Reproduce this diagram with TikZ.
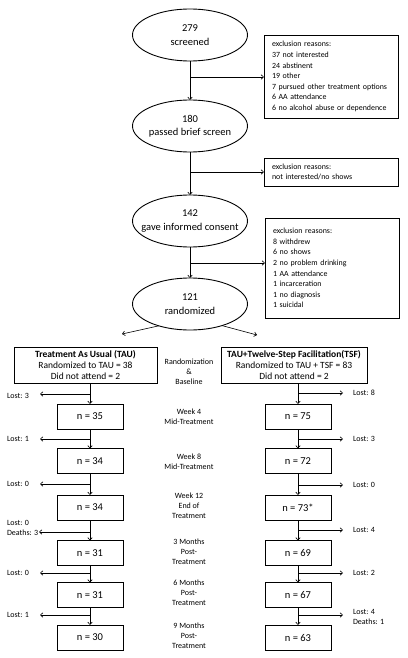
\documentclass[tikz,border=0pt]{standalone}
\usepackage{fontspec}
\setmainfont{Carlito}
\usetikzlibrary{shapes.geometric,arrows.meta}
\begin{document}
\begin{tikzpicture}[x=1pt,y=-1pt,
  every node/.style={inner sep=0pt,outer sep=0pt},
  oval/.style={ellipse,draw,line width=0.9pt,inner xsep=-12pt,inner ysep=0pt,minimum width=115pt,minimum height=52pt,align=center,font=\fontsize{10.5}{13.3}\selectfont},
  exbox/.style={draw,line width=0.8pt,minimum width=134pt,text width=118pt,align=left,font=\fontsize{7.9}{10.6}\selectfont},
  grpbox/.style={draw,line width=1pt,minimum height=36pt,align=center,font=\fontsize{9.5}{11}\selectfont},
  nbox/.style={draw,line width=1pt,minimum width=66pt,minimum height=25pt,font=\fontsize{10.5}{12}\selectfont},
  midlab/.style={align=center,font=\fontsize{8}{9.8}\selectfont},
  lostlab/.style={anchor=west,align=left,font=\fontsize{8}{10}\selectfont},
  arr/.style={line width=0.6pt,-{Straight Barb[length=2.5pt,width=4.5pt]}}
]
\useasboundingbox[fill=white] (0,0) rectangle (407,658);

% ellipses
\node[oval] (e1) at (190,35) {279\\screened};
\node[oval] (e2) at (190,126) {180\\passed brief screen};
\node[oval] (e3) at (190,221) {142\\gave informed consent};
\node[oval] (e4) at (190,304) {121\\randomized};

% exclusion boxes
\node[exbox,minimum height=83pt] (x1) at (331,76.5) {exclusion reasons:\\\mbox{37 not interested}\\\mbox{24 abstinent}\\\mbox{19 other}\\\mbox{7 pursued other treatment options}\\\mbox{6 AA attendance}\\\mbox{6 no alcohol abuse or dependence}};
\node[exbox,minimum height=28pt] (x2) at (331,172) {exclusion reasons:\\\mbox{not interested/no shows}};
\node[exbox,minimum height=100pt] (x3) at (332,268) {exclusion reasons:\\8 withdrew\\6 no shows\\2 no problem drinking\\1 AA attendance\\1 incarceration\\1 no diagnosis\\1 suicidal};

\coordinate (b1) at (190,77);
\coordinate (b2) at (190,172);
\coordinate (b3) at (190,263);
\draw[arr] (e1.south) -- (e2.north);
\draw[arr] (e2.south) -- (e3.north);
\draw[arr] (e3.south) -- (e4.north);
\draw[arr] (b1) -- (b1 -| x1.west);
\draw[arr] (b2) -- (b2 -| x2.west);
\draw[arr] (b3) -- (b3 -| x3.west);

\coordinate (dl) at (122,334);
\coordinate (dr) at (257,335);
\draw[arr] (e4.215) -- (dl);
\draw[arr] (e4.326) -- (dr);

% group boxes
\node[grpbox,minimum width=143pt] (t0) at (85.5,365) {\textbf{Treatment As Usual (TAU)}\\Randomized to TAU = 38\\Did not attend = 2};
\node[grpbox,minimum width=146pt] (s0) at (294,365) {\textbf{TAU+Twelve-Step Facilitation(TSF)}\\Randomized to TAU + TSF = 83\\Did not attend = 2};

% n boxes
\node[nbox] (t1) at (90,416.5) {n = 35};
\node[nbox] (t2) at (90,461) {n = 34};
\node[nbox] (t3) at (90,507.5) {n = 34};
\node[nbox] (t4) at (90,553) {n = 31};
\node[nbox] (t5) at (90,595) {n = 31};
\node[nbox] (t6) at (90,637.5) {n = 30};
\node[nbox] (s1) at (298,416.5) {n = 75};
\node[nbox] (s2) at (298,461) {n = 72};
\node[nbox] (s3) at (298,507.5) {n = 73*};
\node[nbox] (s4) at (298,553) {n = 69};
\node[nbox] (s5) at (298,595) {n = 67};
\node[nbox] (s6) at (298,637.5) {n = 63};

% middle labels
\node[midlab] (m0) at (189,372) {Randomization\\\&\\Baseline};
\node[midlab] (m1) at (189,416.5) {Week 4\\Mid-Treatment};
\node[midlab] (m2) at (189,462) {Week 8\\Mid-Treatment};
\node[midlab] (m3) at (189,506) {Week 12\\End of\\Treatment};
\node[midlab] (m4) at (189,552) {3 Months\\Post-\\Treatment};
\node[midlab] (m5) at (189,593) {6 Months\\Post-\\Treatment};
\node[midlab] (m6) at (189,636) {9 Months\\Post-\\Treatment};

% vertical connectors
\draw[arr] (t0.south -| t1.north) -- (t1.north);
\draw[arr] (t1.south) -- (t2.north);
\draw[arr] (t2.south) -- (t3.north);
\draw[arr] (t3.south) -- (t4.north);
\draw[arr] (t4.south) -- (t5.north);
\draw[arr] (t5.south) -- (t6.north);
\draw[arr] (s0.south -| s1.north) -- (s1.north);
\draw[arr] (s1.south) -- (s2.north);
\draw[arr] (s2.south) -- (s3.north);
\draw[arr] (s3.south) -- (s4.north);
\draw[arr] (s4.south) -- (s5.north);
\draw[arr] (s5.south) -- (s6.north);

% lost: left
\coordinate (la1) at (40,394);
\coordinate (la2) at (40,439);
\coordinate (la3) at (40,484);
\coordinate (la4) at (39,532);
\coordinate (la5) at (40,573);
\coordinate (la6) at (40,615);
\draw[arr] (t1.north |- la1) -- (la1);
\draw[arr] (t1.north |- la2) -- (la2);
\draw[arr] (t1.north |- la3) -- (la3);
\draw[arr] (t1.north |- la4) -- (la4);
\draw[arr] (t1.north |- la5) -- (la5);
\draw[arr] (t1.north |- la6) -- (la6);
\node[lostlab] (ll1) at (7,396) {Lost: 3};
\node[lostlab] (ll2) at (7,439) {Lost: 1};
\node[lostlab] (ll3) at (7,484) {Lost: 0};
\node[lostlab] (ll4) at (7,528) {Lost: 0\\Deaths: 3};
\node[lostlab] (ll5) at (7,573) {Lost: 0};
\node[lostlab] (ll6) at (7,615) {Lost: 1};

% lost: right
\coordinate (ra1) at (343,393);
\coordinate (ra2) at (343,439);
\coordinate (ra3) at (343,485);
\coordinate (ra4) at (343,530);
\coordinate (ra5) at (343,573);
\coordinate (ra6) at (343,615);
\draw[arr] (s1.north |- ra1) -- (ra1);
\draw[arr] (s1.north |- ra2) -- (ra2);
\draw[arr] (s1.north |- ra3) -- (ra3);
\draw[arr] (s1.north |- ra4) -- (ra4);
\draw[arr] (s1.north |- ra5) -- (ra5);
\draw[arr] (s1.north |- ra6) -- (ra6);
\node[lostlab] (rl1) at (353,393) {Lost: 8};
\node[lostlab] (rl2) at (353,439) {Lost: 3};
\node[lostlab] (rl3) at (353,485) {Lost: 0};
\node[lostlab] (rl4) at (353,530) {Lost: 4};
\node[lostlab] (rl5) at (353,573) {Lost: 2};
\node[lostlab] (rl6) at (353,617) {Lost: 4\\Deaths: 1};
\end{tikzpicture}
\end{document}
